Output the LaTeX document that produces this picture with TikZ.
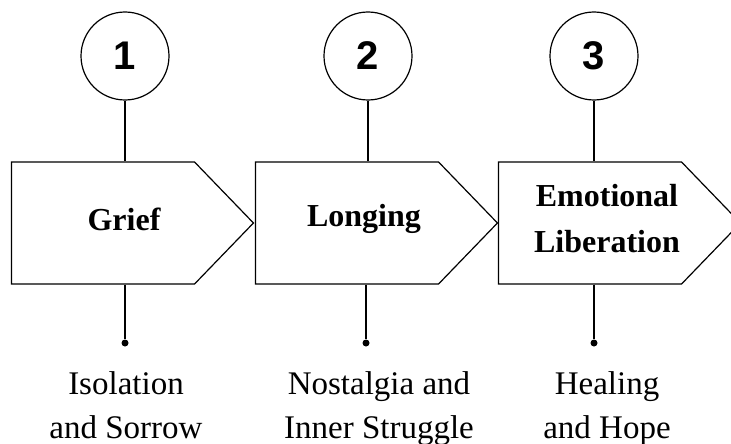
\documentclass[tikz,border=0pt]{standalone}
\usepackage{fontspec}
\setmainfont{Liberation Serif}
\newfontfamily\numfont{Liberation Sans}
\usetikzlibrary{shapes.symbols,positioning}
\tikzset{
    step-circle/.style = {draw, circle, line width=1.2pt, minimum size=88pt, inner sep=0pt, font=\numfont\bfseries\fontsize{40}{40}\selectfont},
    stage-box/.style = {draw, signal, signal to=east, signal pointer angle=92, line width=1.2pt, minimum width=242pt, minimum height=122pt, inner sep=0pt},
    stage-title/.style = {inner sep=0pt, align=center, font=\bfseries\fontsize{32}{46}\selectfont},
    stage-note/.style = {anchor=north, inner sep=0pt, align=center, font=\fontsize{33}{44}\selectfont},
    end-dot/.style = {circle, fill, inner sep=0pt, minimum size=7pt},
    link/.style = {line width=1.2pt},
}

\begin{document}
\begin{tikzpicture}[x=1pt, y=-1pt]
\useasboundingbox (0,0) rectangle (731,444);
% numbers
\node [step-circle] (c1) at (125,56) {1};
\node [step-circle] (c2) at (368,56) {2};
\node [step-circle] (c3) at (594,56) {3};
% stages
\node [stage-box] (b1) at (103,223) {};
\node [stage-box] (b2) at (347,223) {};
\node [stage-box] (b3) at (590,223) {};
\node [stage-title] (t1) at ([xshift=21pt, yshift=4pt]b1.center) {Grief};
\node [stage-title] (t2) at ([xshift=17pt, yshift=4pt]b2.center) {Longing};
\node [stage-title] (t3) at ([xshift=17pt, yshift=4pt]b3.center) {Emotional\\Liberation};
% dots and notes
\node [end-dot] (d1) at (125,343) {};
\node [end-dot] (d2) at (366,343) {};
\node [end-dot] (d3) at (594,343) {};
\node [stage-note] (n1) at (126,371) {Isolation\\and Sorrow};
\node [stage-note] (n2) at (379,371) {Nostalgia and\\Inner Struggle};
\node [stage-note] (n3) at (607,371) {Healing\\and Hope};
\draw [link] (c1) -- (c1 |- b1.north);
\draw [link] (c2) -- (c2 |- b2.north);
\draw [link] (c3) -- (c3 |- b3.north);
\draw [link] (d1 |- b1.south) -- (d1);
\draw [link] (d2 |- b2.south) -- (d2);
\draw [link] (d3 |- b3.south) -- (d3);
\end{tikzpicture}
\end{document}
